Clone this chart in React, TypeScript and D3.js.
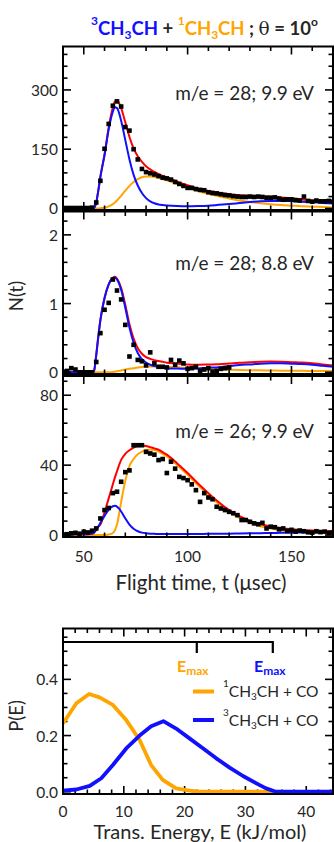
import React from 'react';
import * as d3 from 'd3';

const FONT = 'Lato, "Open Sans", sans-serif';
const BLUE = '#1010ff';
const ORANGE = '#ffa500';
const RED = '#ff0000';
const INK = '#262626';

// ---- TOF data (flight time in microseconds, counts) ----
const p1DataT = [40, 42, 44, 46, 48, 50, 52, 54, 56, 58, 60, 62, 64, 66, 68, 70, 72, 74, 76, 78, 80, 82, 84, 86, 88, 90, 92, 94, 96, 98, 100, 102, 104, 106, 108, 110, 112, 114, 116, 118, 120, 122, 124, 126, 128, 130, 132, 134, 136, 138, 140, 142, 144, 146, 148, 150, 152, 154, 156, 158, 160, 162, 164, 166, 168, 170];
const p1DataN = [1, 1, 1, 1, 1, 1, 1, 2, 15, 70, 151, 214, 260, 271, 258, 206, 197, 150, 124, 100, 92, 89, 86, 82, 78, 76, 73, 67, 62, 57, 52, 52, 49, 47, 46, 41, 39, 38, 36, 34, 33, 31, 30, 29, 29, 30, 29, 30, 29, 27, 27, 28, 25, 22, 23, 23, 21, 20, 30, 19, 17, 20, 18, 18, 19, 17];

const p2DataT = [40, 42, 44, 46, 48, 50, 52, 54, 56, 58, 60, 62, 64, 66, 68, 70, 72, 74, 76, 78, 80, 82, 84, 86, 88, 90, 92, 94, 96, 98, 100, 102, 104, 106, 108, 110, 112, 114, 116, 118, 120];
const p2DataN = [0.01, 0.02, 0.06, 0.04, 0.0, 0.0, 0.0, 0.0, 0.15, 0.57, 0.91, 1.01, 1.35, 1.19, 1.06, 0.69, 0.23, 0.4, 0.18, 0.16, 0.1, 0.29, 0.13, 0.08, 0.08, 0.07, 0.18, 0.11, 0.17, 0.13, 0.05, 0.06, 0.08, 0.02, 0.04, 0.06, 0.01, 0.02, 0.05, 0.06, 0.07];

const p3DataT = [40, 42, 44, 46, 48, 50, 52, 54, 56, 58, 60, 62, 64, 66, 68, 70, 72, 74, 76, 78, 80, 82, 84, 86, 88, 90, 92, 94, 96, 98, 100, 102, 104, 106, 108, 110, 112, 114, 116, 118, 120, 122, 124, 126, 128, 130, 132, 134, 136, 138, 140, 142, 144, 146, 148, 150, 152, 154, 156, 158, 160, 162, 164, 166, 168, 170];
const p3DataN = [0.3, 0.5, 1.0, 1.3, 0.8, 1.9, 1.5, 2.5, 3.8, 9.5, 14.3, 15.5, 24, 24.8, 30.5, 36, 37, 51.4, 51.4, 51.4, 47.6, 46.7, 46, 42.9, 43.5, 35.5, 42, 38, 33.3, 32.6, 31.4, 29, 25.7, 19, 24, 21.5, 20.5, 16.2, 15.2, 14.3, 13.3, 12.5, 11.4, 8.6, 8.6, 7.6, 6.7, 6.2, 7, 3.8, 4.8, 4.5, 3.3, 3.8, 2.4, 3.0, 2.0, 2.6, 2.2, 1.6, 1.4, 2.2, 1.7, 2.0, 1.2, 1.5];

// ---- Fit curves, sampled on a common time grid ----
const fitT = [40, 50, 54, 55, 56, 57, 58, 60, 62, 64, 65, 66, 68, 70, 72, 74, 76, 78, 80, 82, 84, 86, 88, 90, 95, 100, 105, 110, 115, 120, 125, 130, 135, 140, 145, 150, 155, 160, 165, 170];

const p1Blue = [0, 0, 0, 2, 15, 45, 80, 135, 200, 245, 256, 254, 222, 173, 124, 85, 58, 39, 26, 18, 13, 10, 8.5, 7.5, 6, 5.5, 6, 7, 9, 11, 13.5, 16, 18, 19, 19, 18.5, 17, 15.5, 14, 12.5];
const p1Orange = [0, 0, 0, 0, 0, 0, 0.5, 1.5, 5, 11, 15, 20, 32, 45, 57, 67, 74, 79, 81, 81, 79.5, 77, 74, 71, 62, 53, 44, 37, 30.5, 25, 20, 16, 13, 10.5, 8.5, 7, 5.5, 4.5, 3.5, 2.5];
const p1Red = [0, 0, 0, 2, 15, 45, 80.5, 136.5, 205, 256, 271, 274, 254, 218, 181, 152, 132, 118, 107, 99, 92.5, 87, 82.5, 78.5, 68, 58.5, 50, 44, 39.5, 36, 33.5, 32, 31, 29.5, 27.5, 25.5, 22.5, 20, 17.5, 15];

const p2Blue = [0, 0, 0, 0.03, 0.25, 0.52, 0.76, 1.08, 1.28, 1.37, 1.38, 1.35, 1.2, 0.94, 0.65, 0.43, 0.28, 0.19, 0.14, 0.11, 0.09, 0.08, 0.07, 0.06, 0.055, 0.05, 0.055, 0.065, 0.075, 0.09, 0.105, 0.115, 0.125, 0.13, 0.13, 0.125, 0.12, 0.11, 0.095, 0.08];
const p2Orange = [0, 0, 0, 0, 0, 0, 0, 0, 0, 0.005, 0.01, 0.015, 0.025, 0.04, 0.05, 0.06, 0.07, 0.078, 0.083, 0.085, 0.085, 0.084, 0.082, 0.08, 0.072, 0.063, 0.055, 0.048, 0.042, 0.037, 0.033, 0.03, 0.028, 0.026, 0.024, 0.022, 0.021, 0.02, 0.02, 0.02];
const p2Red = [0, 0, 0, 0.03, 0.25, 0.52, 0.76, 1.08, 1.28, 1.375, 1.39, 1.365, 1.225, 0.98, 0.7, 0.49, 0.35, 0.27, 0.22, 0.195, 0.175, 0.164, 0.152, 0.14, 0.127, 0.113, 0.11, 0.113, 0.117, 0.127, 0.138, 0.145, 0.153, 0.156, 0.154, 0.147, 0.141, 0.13, 0.115, 0.1];

const p3Blue = [0.5, 0.5, 0.8, 1.5, 3, 4.8, 7, 11, 14.5, 16.5, 16.8, 16.3, 13.5, 9.5, 6, 3.6, 2.2, 1.4, 1, 0.8, 0.7, 0.6, 0.6, 0.6, 0.6, 0.6, 0.65, 0.7, 0.75, 0.8, 0.9, 1.0, 1.1, 1.2, 1.3, 1.4, 1.5, 1.6, 1.7, 1.8];
const p3Orange = [0, 0, 0, 0, 0, 0, 0, 0, 0.3, 1.2, 2.8, 6, 19, 31, 39.5, 43.5, 46.2, 47.8, 48.7, 49, 48.6, 47.8, 46.5, 45, 40, 34.5, 28.5, 23, 17.8, 13.3, 9.8, 7.1, 5.1, 3.8, 2.8, 2.2, 1.8, 1.5, 1.2, 1];
const p3Red = [0.5, 0.5, 0.8, 1.5, 3, 4.8, 6, 13, 21, 29, 33, 36.5, 43, 46.5, 48.5, 50, 51, 51.3, 51, 50.3, 49.6, 48.8, 47.5, 46, 41, 35.5, 29.5, 24, 18.8, 14.3, 10.8, 8.1, 6.2, 5, 4, 3.3, 2.9, 2.6, 2.4, 2.2];

// ---- P(E) distributions ----
const singletE = [0, 2.2, 4.3, 6, 8.2, 10.4, 12.6, 14.5, 16.4, 18.6, 20.8, 22.5, 34.5];
const singletP = [0.243, 0.315, 0.348, 0.336, 0.309, 0.255, 0.184, 0.095, 0.042, 0.012, 0.004, 0, 0];
const tripletE = [0, 2.2, 4.4, 6.3, 8.2, 10.4, 12.6, 14.5, 16.5, 18.6, 20.8, 23, 25.2, 27.4, 29.6, 31.8, 33.4, 35, 44.5];
const tripletP = [0.004, 0.008, 0.021, 0.048, 0.095, 0.154, 0.2, 0.233, 0.251, 0.225, 0.19, 0.155, 0.119, 0.086, 0.056, 0.03, 0.012, 0, 0];
const emaxValues = [22, 34.5];

// ---- axis tick labels ----
const tofXTicks = [50, 100, 150];
const eXTicks = [0, 10, 20, 30, 40];
const pYTicks = [0, 0.2, 0.4];

const panelLabels = ['m/e = 28; 9.9 eV', 'm/e = 28; 8.8 eV', 'm/e = 26; 9.9 eV'];

const X0 = 63;
const X1 = 333;
const xT = d3.scaleLinear().domain([40, 170]).range([X0, X1]);

const panels = [
  { top: 46.5, bottom: 210, domain: [-4, 410], major: [0, 150, 300], minor: 30, dataT: p1DataT, dataN: p1DataN, blue: p1Blue, orange: p1Orange, red: p1Red, label: panelLabels[0], labelY: 100 },
  { top: 211.5, bottom: 374, domain: [-0.025, 2.34], major: [0, 1, 2], minor: 0.2, dataT: p2DataT, dataN: p2DataN, blue: p2Blue, orange: p2Orange, red: p2Red, label: panelLabels[1], labelY: 270 },
  { top: 376, bottom: 537, domain: [-1.1, 91], major: [0, 40, 80], minor: 8, dataT: p3DataT, dataN: p3DataN, blue: p3Blue, orange: p3Orange, red: p3Red, label: panelLabels[2], labelY: 438 },
];

const MAJ = 8;
const MIN = 4.5;

function TofPanel({ p, showX }: { p: any; showX: boolean }) {
  const y = d3.scaleLinear().domain(p.domain).range([p.bottom, p.top]);
  const mk = (vals: number[]) =>
    d3.line<number>().x((_, i) => xT(fitT[i])).y((d) => y(d)).curve(d3.curveMonotoneX)(vals) || '';
  const xMinor = d3.range(40, 171, 10);
  const yMinor = d3.range(0, p.domain[1], p.minor).filter((v: number) => !p.major.some((m: number) => Math.abs(m - v) < 1e-6));
  const clipId = 'clip' + Math.round(p.top);
  return (
    <g>
      <defs>
        <clipPath id={clipId}>
          <rect x={X0} y={p.top} width={X1 - X0} height={p.bottom - p.top} />
        </clipPath>
      </defs>
      <g clipPath={`url(#${clipId})`}>
        <path d={mk(p.orange)} fill="none" stroke={ORANGE} strokeWidth={2} />
        <path d={mk(p.red)} fill="none" stroke={RED} strokeWidth={2} />
        <path d={mk(p.blue)} fill="none" stroke={BLUE} strokeWidth={2} />
        {p.dataT.map((t: number, i: number) => (
          <rect key={i} x={xT(t) - 2.3} y={y(p.dataN[i]) - 2.3} width={4.6} height={4.6} fill="#000" />
        ))}
      </g>
      <g stroke="#000" strokeWidth={1.6}>
        {xMinor.map((t: number) => {
          const len = tofXTicks.includes(t) ? MAJ : MIN;
          return (
            <g key={'x' + t}>
              <line x1={xT(t)} x2={xT(t)} y1={p.top} y2={p.top + len} />
              <line x1={xT(t)} x2={xT(t)} y1={p.bottom} y2={p.bottom - len} />
            </g>
          );
        })}
        {p.major.map((v: number) => (
          <g key={'ym' + v}>
            <line x1={X0} x2={X0 + MAJ} y1={y(v)} y2={y(v)} />
            <line x1={X1} x2={X1 - MAJ} y1={y(v)} y2={y(v)} />
          </g>
        ))}
        {yMinor.map((v: number) => (
          <g key={'yn' + v}>
            <line x1={X0} x2={X0 + MIN} y1={y(v)} y2={y(v)} />
            <line x1={X1} x2={X1 - MIN} y1={y(v)} y2={y(v)} />
          </g>
        ))}
      </g>
      <rect x={X0} y={p.top} width={X1 - X0} height={p.bottom - p.top} fill="none" stroke="#000" strokeWidth={2} />
      {p.major.map((v: number) => (
        <text key={'l' + v} x={58} y={y(v)} textAnchor="end" dominantBaseline="central" fontSize={15.5} fill={INK} fontFamily={FONT}>
          {String(v)}
        </text>
      ))}
      <text x={314} y={p.labelY} textAnchor="end" fontSize={19} fill={INK} fontFamily={FONT}>
        {p.label}
      </text>
      {showX &&
        tofXTicks.map((t) => (
          <text key={'xt' + t} x={xT(t)} y={562} textAnchor="middle" fontSize={15.5} fill={INK} fontFamily={FONT}>
            {t}
          </text>
        ))}
    </g>
  );
}

function PEPanel() {
  const top = 628.5;
  const bottom = 794;
  const xE = d3.scaleLinear().domain([0, 44.4]).range([X0, X1]);
  const yP = d3.scaleLinear().domain([-0.008, 0.581]).range([bottom, top]);
  const sPath = d3.line<number>().x((_, i) => xE(singletE[i])).y((d) => yP(d))(singletP) || '';
  const tPath = d3.line<number>().x((_, i) => xE(tripletE[i])).y((d) => yP(d))(tripletP) || '';
  const xMinor = d3.range(0, 45, 2).filter((v: number) => v % 10 !== 0);
  const yMinor = d3.range(0, 0.58, 0.05).filter((v: number) => !pYTicks.some((m) => Math.abs(m - v) < 1e-6));
  const bracketY = 642;
  return (
    <g>
      <g stroke="#000" strokeWidth={1.6}>
        {eXTicks.map((v) => (
          <g key={'xm' + v}>
            <line x1={xE(v)} x2={xE(v)} y1={top} y2={top + MAJ} />
            <line x1={xE(v)} x2={xE(v)} y1={bottom} y2={bottom - MAJ} />
          </g>
        ))}
        {xMinor.map((v: number) => (
          <g key={'xn' + v}>
            <line x1={xE(v)} x2={xE(v)} y1={top} y2={top + MIN} />
            <line x1={xE(v)} x2={xE(v)} y1={bottom} y2={bottom - MIN} />
          </g>
        ))}
        {pYTicks.map((v) => (
          <g key={'ym' + v}>
            <line x1={X0} x2={X0 + MAJ} y1={yP(v)} y2={yP(v)} />
            <line x1={X1} x2={X1 - MAJ} y1={yP(v)} y2={yP(v)} />
          </g>
        ))}
        {yMinor.map((v: number) => (
          <g key={'yn' + v}>
            <line x1={X0} x2={X0 + MIN} y1={yP(v)} y2={yP(v)} />
            <line x1={X1} x2={X1 - MIN} y1={yP(v)} y2={yP(v)} />
          </g>
        ))}
      </g>
      <path
        d={`M${X0},${bracketY}H${xE(emaxValues[1])}V${bracketY + 11}M${xE(emaxValues[0])},${bracketY}V${bracketY + 11}`}
        fill="none"
        stroke="#000"
        strokeWidth={2.2}
      />
      <path d={sPath} fill="none" stroke={ORANGE} strokeWidth={3.8} strokeLinejoin="round" />
      <path d={tPath} fill="none" stroke={BLUE} strokeWidth={3.8} strokeLinejoin="round" />
      <rect x={X0} y={top} width={X1 - X0} height={bottom - top} fill="none" stroke="#000" strokeWidth={2} />
      {pYTicks.map((v) => (
        <text key={'yl' + v} x={58} y={yP(v)} textAnchor="end" dominantBaseline="central" fontSize={15.5} fill={INK} fontFamily={FONT}>
          {v.toFixed(1)}
        </text>
      ))}
      {eXTicks.map((v) => (
        <text key={'xl' + v} x={xE(v)} y={817} textAnchor="middle" fontSize={15.5} fill={INK} fontFamily={FONT}>
          {v}
        </text>
      ))}
      <text x={177} y={672} fontSize={16} fontWeight="bold" fill={ORANGE} fontFamily={FONT}>
        E<tspan fontSize={12} dy={3}>max</tspan>
      </text>
      <text x={254} y={672} fontSize={16} fontWeight="bold" fill={BLUE} fontFamily={FONT}>
        E<tspan fontSize={12} dy={3}>max</tspan>
      </text>
      <line x1={193} x2={214} y1={691.5} y2={691.5} stroke={ORANGE} strokeWidth={4} />
      <line x1={193} x2={214} y1={720} y2={720} stroke={BLUE} strokeWidth={4} />
      <text x={223} y={697} fontSize={15.5} fill={INK} fontFamily={FONT}>
        <tspan fontSize={10} dy={-10}>1</tspan>
        <tspan dy={10}>CH</tspan>
        <tspan fontSize={10} dy={3}>3</tspan>
        <tspan dy={-3}>CH + CO</tspan>
      </text>
      <text x={223} y={725.5} fontSize={15.5} fill={INK} fontFamily={FONT}>
        <tspan fontSize={10} dy={-10}>3</tspan>
        <tspan dy={10}>CH</tspan>
        <tspan fontSize={10} dy={3}>3</tspan>
        <tspan dy={-3}>CH + CO</tspan>
      </text>
      <text transform="translate(23,716) rotate(-90)" textAnchor="middle" fontSize={18.5} fill={INK} fontFamily={FONT}>
        P(E)
      </text>
      <text x={200} y={839} textAnchor="middle" fontSize={20} fill={INK} fontFamily={FONT}>
        Trans. Energy, E (kJ/mol)
      </text>
    </g>
  );
}

export default function App() {
  return (
    <svg width={334} height={842} style={{ position: 'absolute', left: 0, top: 0, display: 'block', background: '#fff' }}>
      <rect width={334} height={842} fill="#fff" />
      <text x={91} y={35} fontSize={18.5} fontWeight="bold" fontFamily={FONT} fill={INK}>
        <tspan fill={BLUE} fontSize={12} dy={-10}>3</tspan>
        <tspan fill={BLUE} dy={10}>CH</tspan>
        <tspan fill={BLUE} fontSize={12} dy={4}>3</tspan>
        <tspan fill={BLUE} dy={-4}>CH</tspan>
        <tspan fill={INK}> + </tspan>
        <tspan fill={ORANGE} fontSize={12} dy={-10}>1</tspan>
        <tspan fill={ORANGE} dy={10}>CH</tspan>
        <tspan fill={ORANGE} fontSize={12} dy={4}>3</tspan>
        <tspan fill={ORANGE} dy={-4}>CH</tspan>
        <tspan fill={INK}> ; </tspan>
        <tspan fill={INK} fontWeight="normal" fontFamily='"DejaVu Serif", serif'>θ</tspan>
        <tspan fill={INK}> = 10</tspan>
        <tspan fill={INK} fontSize={12} dy={-9}>o</tspan>
      </text>
      {panels.map((p, i) => (
        <TofPanel key={i} p={p} showX={i === 2} />
      ))}
      <text transform="translate(23,296) rotate(-90)" textAnchor="middle" fontSize={18.5} fill={INK} fontFamily={FONT}>
        N(t)
      </text>
      <text x={201} y={590} textAnchor="middle" fontSize={20.5} fill={INK} fontFamily={FONT}>
        Flight time, t (μsec)
      </text>
      <PEPanel />
    </svg>
  );
}
